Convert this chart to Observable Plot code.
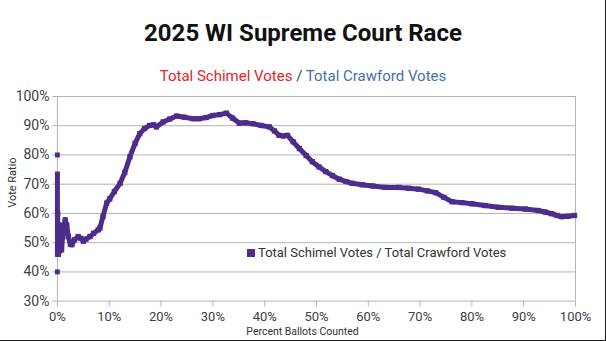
<!DOCTYPE html>
<html><head><meta charset="utf-8">
<script src="https://cdn.jsdelivr.net/npm/d3@7"></script>
<script src="https://cdn.jsdelivr.net/npm/@observablehq/plot@0.6"></script>
<style>
body{margin:0;background:#fff;}
#wrap{position:relative;width:606px;height:341px;overflow:hidden;font-family:Roboto,"Open Sans",sans-serif;background:#fff;box-sizing:border-box;border-right:1px solid #1a1a1a;border-bottom:1px solid #1a1a1a;}
#title{position:absolute;left:0;top:19px;width:606px;text-align:center;font-size:24px;line-height:28px;font-weight:700;color:#111;}
#sub{position:absolute;left:0;top:67px;width:606px;text-align:center;font-size:15px;line-height:18px;color:#444;}
#chart{position:absolute;left:0;top:88px;}
#legend{position:absolute;left:247px;top:245px;font-size:13px;line-height:16px;color:#333;white-space:nowrap;}
#legend .sw{display:inline-block;width:8px;height:8px;background:#4e2c8c;margin-right:3px;vertical-align:0px;}
</style></head><body>
<div id="wrap">
<div id="title">2025 WI Supreme Court Race</div>
<div id="sub"><span style="color:#e5232b">Total Schimel Votes</span> / <span style="color:#4a6fa8">Total Crawford Votes</span></div>
<div id="chart"></div>
<div id="legend"><span class="sw"></span>Total Schimel Votes / Total Crawford Votes</div>
</div>
<script>
const purple = "#4e2c8c";
const xTicks = [0,10,20,30,40,50,60,70,80,90,100];
const yTicks = [30,40,50,60,70,80,90,100];
// early reports, all at 0% counted
const clusterY = [80,73.5,72.5,71,69.5,68,66.5,65,63.5,62,60.5,59,57.5,56,54.5,53,51.5,50,48.5,47,46,40];
// main curve
const curveX = [0.05,0.15,0.3,0.45,0.6,0.8,1.0,1.5,1.8,2.1,2.5,2.8,3.3,4.0,4.5,5.0,5.5,6.3,7.0,7.9,8.2,8.8,9.5,10.1,11.0,12.1,13.0,14.0,15.0,15.9,16.8,17.8,18.6,19.1,20.4,21.7,23.0,24.5,26.2,27.4,28.7,30.0,31.3,32.6,33.8,35.1,36.3,37.7,39.3,40.9,41.9,42.8,43.6,44.4,45.5,46.7,48.0,49.2,50.5,51.8,53.1,54.4,55.7,56.9,58.8,60.8,63.3,65.9,67.8,69.7,71.4,73.0,74.6,76.2,78.1,80.0,82.5,85.1,87.7,90.3,92.8,94.1,95.4,96.4,97.3,98.5,99.8];
const curveY = [60,46,47,54,56,47.5,52,57.8,56,52.1,49.5,49.3,51,52.1,51.5,50.5,51.2,52.1,53.2,54.4,55,59,63.5,65,67.5,70.3,74,79.4,84,87.3,89,90.1,90.3,89.6,91.3,92.3,93.3,92.9,92.4,92.4,92.8,93.5,93.8,94.3,92.6,90.9,91.0,90.7,90.1,89.6,88.2,86.7,86.5,86.7,84.5,82.2,79.8,77.7,75.9,74.3,72.9,71.7,70.9,70.3,69.8,69.4,68.9,68.9,68.6,68.3,67.7,67.1,65.5,64.0,63.7,63.3,62.7,62.1,61.8,61.5,61.0,60.5,59.9,59.3,58.9,59.0,59.3];

const cluster = clusterY.map(y => ({x: 0, y}));
const curve = curveX.map((x, i) => ({x, y: curveY[i]}));
const grid = "#b4b4b4";

const plot = Plot.plot({
  width: 606, height: 253,
  marginTop: 8, marginBottom: 40, marginLeft: 57, marginRight: 30,
  style: {fontFamily: "Roboto, sans-serif", background: "transparent", overflow: "visible"},
  x: {domain: [0, 100], label: null},
  y: {domain: [30, 100], label: null},
  marks: [
    Plot.ruleY(yTicks, {stroke: grid}),
    Plot.ruleX([0, 100], {stroke: grid}),
    Plot.axisY({ticks: yTicks, label: null, tickSize: 5, tickPadding: 3, tickFormat: d => d + "%", fontSize: 14, color: "#404040"}),
    Plot.axisX({ticks: xTicks, label: null, tickSize: 6, tickPadding: 5, tickFormat: d => d + "%", fontSize: 13, color: "#404040"}),
    Plot.text(["Percent Ballots Counted"], {frameAnchor: "bottom", dx: -14, dy: 33.5, fontSize: 10.5, fill: "#333"}),
    Plot.text(["Vote Ratio"], {frameAnchor: "left", rotate: -90, dx: -45, dy: 9, fontSize: 11, fill: "#333"}),
    Plot.line(curve, {x: "x", y: "y", stroke: purple, strokeWidth: 5, strokeLinejoin: "round"}),
    Plot.dot(curve, {x: "x", y: "y", symbol: "square", r: 3, fill: purple}),
    Plot.dot(cluster, {x: "x", y: "y", symbol: "square", r: 2.8, fill: purple})
  ]
});
d3.select(plot).selectAll('[aria-label="y-axis tick"], [aria-label="x-axis tick"]').attr("stroke", grid);
document.getElementById("chart").appendChild(plot);
</script>
</body></html>
